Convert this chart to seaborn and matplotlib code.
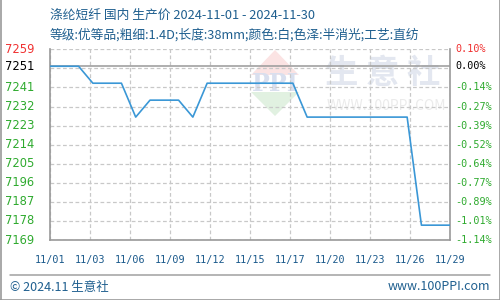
import numpy as np
import pandas as pd
import matplotlib
matplotlib.use("Agg")
import matplotlib.pyplot as plt
from matplotlib.patches import Polygon
import seaborn as sns

# ---- data ----
dates = ["2024-11-01", "2024-11-03", "2024-11-04", "2024-11-06", "2024-11-07",
         "2024-11-08", "2024-11-10", "2024-11-11", "2024-11-12", "2024-11-18",
         "2024-11-19", "2024-11-26", "2024-11-27", "2024-11-29"]
prices = [7251, 7251, 7243, 7243, 7227, 7235, 7235, 7227, 7243, 7243,
          7227, 7227, 7176, 7176]
base_price = 7251
x_tick_labels = ["11/01", "11/03", "11/06", "11/09", "11/12", "11/15",
                 "11/17", "11/20", "11/23", "11/26", "11/29"]
left_labels = ["7259", "7251", "7241", "7232", "7223", "7214", "7205",
               "7196", "7187", "7178", "7169"]
right_labels = ["0.10%", "0.00%", "-0.14%", "-0.27%", "-0.39%", "-0.52%",
                "-0.64%", "-0.77%", "-0.89%", "-1.01%", "-1.14%"]
grid_values = [7259, 7250, 7241, 7232, 7223, 7214, 7205, 7196, 7187, 7178, 7169]
label_values = [7259, 7251, 7241, 7232, 7223, 7214, 7205, 7196, 7187, 7178, 7169]
title = "涤纶短纤 国内 生产价 2024-11-01 - 2024-11-30"
subtitle = "等级:优等品;粗细:1.4D;长度:38mm;颜色:白;色泽:半消光;工艺:直纺"
footer_left = "© 2024.11 生意社"
footer_right = "www.100PPI.com"

sns.set_theme(style="white")
plt.rcParams["font.family"] = ["Noto Sans CJK SC", "DejaVu Sans"]

df = pd.DataFrame({"date": pd.to_datetime(dates), "price": prices})
df["day"] = df["date"].dt.day

W, H = 500, 300
fig = plt.figure(figsize=(5, 3), dpi=100)
fig.patch.set_facecolor("white")

def fx(px):
    return px / W

def fy(py):
    return 1 - py / H

ax_l, ax_r, ax_t, ax_b = 50, 450, 49.3, 240
ax = fig.add_axes([fx(ax_l), fy(ax_b), (ax_r - ax_l) / W, (ax_b - ax_t) / H])
ax.set_facecolor("none")

ymin, ymax = 7169, 7259
xmin, xmax = 1, 29
ax.set_xlim(xmin, xmax)
ax.set_ylim(ymin, ymax)

# grid
grid_c = "#c8c8c8"
for gv in grid_values:
    ax.axhline(gv, color=grid_c, lw=0.9, ls=(0, (3, 2)), zorder=1)
xt = np.linspace(xmin, xmax, len(x_tick_labels))
for xv in xt:
    ax.axvline(xv, color=grid_c, lw=0.9, ls=(0, (3, 2)), zorder=1)

# base line
ax.axhline(base_price, color="#999999", lw=1.1, zorder=2)

# watermark
wm_ax = fig.add_axes([0, 0, 1, 1], zorder=-1)
wm_ax.set_xlim(0, W)
wm_ax.set_ylim(H, 0)
wm_ax.axis("off")
cx = 275
wm_ax.add_patch(Polygon([[cx - 24, 75], [cx, 50], [cx + 24, 75]], closed=True,
                        facecolor="#fbe3e3", edgecolor="none"))
wm_ax.add_patch(Polygon([[cx - 24, 92], [cx, 116], [cx + 24, 92]], closed=True,
                        facecolor="#e1f1e1", edgecolor="none"))
wm_ax.text(cx, 84, "PPI", ha="center", va="center", fontsize=17,
           color="#d9dfee", family="DejaVu Serif", fontweight="bold")
wm_ax.text(383, 73, "生 意 社", ha="center", va="center", fontsize=24,
           color="#e3e7f0", fontweight="bold")
wm_ax.text(386, 106, "WWW.100PPI.COM", ha="center", va="center", fontsize=10,
           color="#ebebeb")

sns.lineplot(data=df, x="day", y="price", ax=ax, color="#3a97d6", lw=1.2,
             zorder=3, legend=False)

ax.spines["top"].set_visible(False)
for s in ["left", "bottom", "right"]:
    ax.spines[s].set_color("#999999")
    ax.spines[s].set_linewidth(1.2)

ax.set_xlabel("")
ax.set_ylabel("")
ax.set_xticks(xt)
ax.set_xticklabels(x_tick_labels, family="DejaVu Sans Mono", fontsize=7.3,
                   color="#1b5a8c")
ax.tick_params(axis="x", length=0, pad=11)
ax.set_yticks([])

# y labels left and right
green, red = "#2eaa2e", "#f03030"
for i, (lv, ll, rl) in enumerate(zip(label_values, left_labels, right_labels)):
    c = red if i == 0 else ("#000000" if i == 1 else green)
    yy = ax.transData.transform((0, lv))[1]
    yf = fig.transFigure.inverted().transform((0, yy))[1]
    fig.text(fx(5), yf, ll, ha="left", va="center", fontsize=8.3, color=c,
             family="DejaVu Sans")
    fig.text(fx(455), yf, rl, ha="left", va="center", fontsize=7.3, color=c,
             family="DejaVu Sans Mono")

# titles
tcol = "#1f5f8f"
fig.text(fx(50), fy(15), title, ha="left", va="center", fontsize=9.2, color=tcol)
fig.text(fx(50), fy(35), subtitle, ha="left", va="center", fontsize=9.2, color=tcol)

# footer
fig.add_artist(plt.Line2D([fx(10), fx(490)], [fy(275), fy(275)],
                          color="#a0a0a0", lw=1.1))
fig.text(fx(10), fy(287), footer_left, ha="left", va="center", fontsize=9,
         color="#1f5f8f")
fig.text(fx(490), fy(287), footer_right, ha="right", va="center", fontsize=9,
         color="#1f5f8f")

# outer border
for xs, ys in [([0.5, 0.5], [0, H]), ([W - 0.5, W - 0.5], [0, H]),
               ([0, W], [H - 0.5, H - 0.5])]:
    fig.add_artist(plt.Line2D([fx(v) for v in xs], [fy(v) for v in ys],
                              color="#999999", lw=1.2))

fig.savefig("out.png", dpi=100, facecolor="white")
